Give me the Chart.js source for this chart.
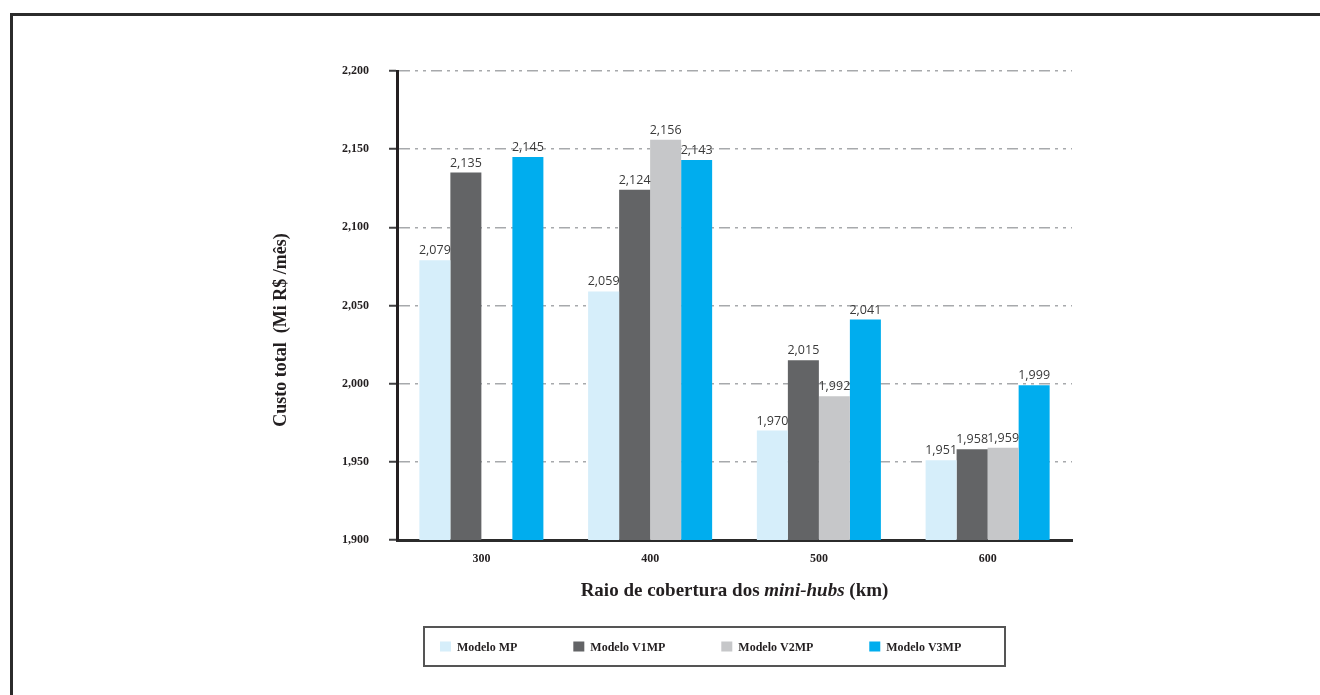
<!DOCTYPE html>
<html>
<head>
<meta charset="utf-8">
<script src="https://cdn.jsdelivr.net/npm/chart.js@4.4.0/dist/chart.umd.min.js"></script>
<style>
  html, body { margin: 0; padding: 0; background: #fff; }
  canvas { display: block; }
</style>
</head>
<body>
<canvas id="myChart" width="1320" height="695"></canvas>
<script>
const raios = ['300', '400', '500', '600'];
const modeloMP = [2079, 2059, 1970, 1951];
const modeloV1MP = [2135, 2124, 2015, 1958];
const modeloV2MP = [null, 2156, 1992, 1959];
const modeloV3MP = [2145, 2143, 2041, 1999];
const yTicks = [1900, 1950, 2000, 2050, 2100, 2150, 2200];

const serif = '"Liberation Serif", "Times New Roman", serif';
const corTexto = '#231f20';

function fmt(v) {
  return String(v).replace(/\B(?=(\d{3})+(?!\d))/g, ',');
}

// moldura em volta da figura
const moldura = {
  id: 'moldura',
  beforeDraw(chart) {
    const ctx = chart.ctx;
    ctx.save();
    ctx.fillStyle = '#fff';
    ctx.fillRect(0, 0, chart.width, chart.height);
    ctx.fillStyle = '#2b2b2b';
    ctx.fillRect(10, 13, chart.width - 10, 3);
    ctx.fillRect(10, 13, 3, chart.height - 13);
    ctx.restore();
  }
};

// valores em cima das barras
const rotulos = {
  id: 'rotulos',
  afterDatasetsDraw(chart) {
    const ctx = chart.ctx;
    ctx.save();
    ctx.font = '12.5px "Open Sans", sans-serif';
    ctx.fillStyle = '#3a3a3a';
    ctx.textAlign = 'center';
    ctx.textBaseline = 'alphabetic';
    chart.data.datasets.forEach(function(ds, i) {
      chart.getDatasetMeta(i).data.forEach(function(bar, j) {
        const v = ds.data[j];
        if (v == null) return;
        ctx.fillText(fmt(v), bar.x, bar.y - 6);
      });
    });
    ctx.restore();
  }
};

// titulos dos eixos e legenda
const extras = {
  id: 'extras',
  afterDraw(chart) {
    const ctx = chart.ctx;
    const area = chart.chartArea;
    ctx.save();
    ctx.fillStyle = corTexto;

    // eixo y
    ctx.save();
    ctx.translate(area.left - 116, area.top + 259);
    ctx.rotate(-Math.PI / 2);
    ctx.font = 'bold 18px ' + serif;
    ctx.textAlign = 'center';
    ctx.textBaseline = 'middle';
    ctx.fillText('Custo total  (Mi R$ /mês)', 0, 0);
    ctx.restore();

    // eixo x (com parte em itálico)
    const partes = [
      ['Raio de cobertura dos ', 'bold 19px ' + serif],
      ['mini-hubs', 'italic bold 19px ' + serif],
      [' (km)', 'bold 19px ' + serif]
    ];
    let total = 0;
    partes.forEach(function(p) { ctx.font = p[1]; total += ctx.measureText(p[0]).width; });
    let x = (area.left + area.right) / 2 - total / 2;
    const y = area.bottom + 51;
    ctx.textAlign = 'left';
    ctx.textBaseline = 'middle';
    partes.forEach(function(p) {
      ctx.font = p[1];
      ctx.fillText(p[0], x, y);
      x += ctx.measureText(p[0]).width;
    });

    // legenda
    const bx = area.left + 27, by = area.bottom + 87;
    ctx.strokeStyle = '#555';
    ctx.lineWidth = 2;
    ctx.strokeRect(bx, by, 581, 39);
    ctx.font = 'bold 12px ' + serif;
    let lx = bx + 16;
    const ly = by + 19.5;
    chart.data.datasets.forEach(function(ds) {
      ctx.fillStyle = ds.backgroundColor;
      ctx.fillRect(lx, ly - 5, 11, 10);
      ctx.fillStyle = corTexto;
      ctx.fillText(ds.label, lx + 17, ly + 1);
      lx += 17 + ctx.measureText(ds.label).width + 56;
    });
    ctx.restore();
  }
};

const data = {
  labels: raios,
  datasets: [
    { label: 'Modelo MP', data: modeloMP, backgroundColor: '#d6eefa' },
    { label: 'Modelo V1MP', data: modeloV1MP, backgroundColor: '#636466' },
    { label: 'Modelo V2MP', data: modeloV2MP, backgroundColor: '#c6c7c9' },
    { label: 'Modelo V3MP', data: modeloV3MP, backgroundColor: '#00adee' }
  ]
};

const config = {
  type: 'bar',
  data: data,
  options: {
    responsive: false,
    animation: false,
    events: [],
    layout: {
      padding: { left: 277, right: 248, top: 71, bottom: 115 }
    },
    datasets: {
      bar: { barPercentage: 1, categoryPercentage: 0.735, borderWidth: 0 }
    },
    plugins: {
      legend: { display: false },
      tooltip: { enabled: false }
    },
    scales: {
      x: {
        afterFit: function(scale) { scale.height = 40; },
        grid: { display: false, drawTicks: false },
        border: { display: true, color: '#2b2b2b', width: 3 },
        ticks: {
          padding: 12,
          color: corTexto,
          font: { family: serif, size: 12, weight: 'bold' }
        }
      },
      y: {
        min: 1900,
        max: 2200,
        afterFit: function(scale) { scale.width = 120; },
        afterBuildTicks: function(scale) {
          scale.ticks = yTicks.map(function(v) { return { value: v }; });
        },
        grid: {
          color: '#a7a9ac',
          lineWidth: 1.5,
          tickLength: 8,
          tickColor: '#414042',
          tickWidth: 2
        },
        border: { display: true, color: '#231f20', width: 3, dash: [11, 5, 3, 5, 3, 5] },
        ticks: {
          padding: 20,
          color: corTexto,
          font: { family: serif, size: 12, weight: 'bold' },
          callback: function(v) { return fmt(v); }
        }
      }
    }
  },
  plugins: [moldura, rotulos, extras]
};

var myChart = new Chart(document.getElementById('myChart'), config);
</script>
</body>
</html>
